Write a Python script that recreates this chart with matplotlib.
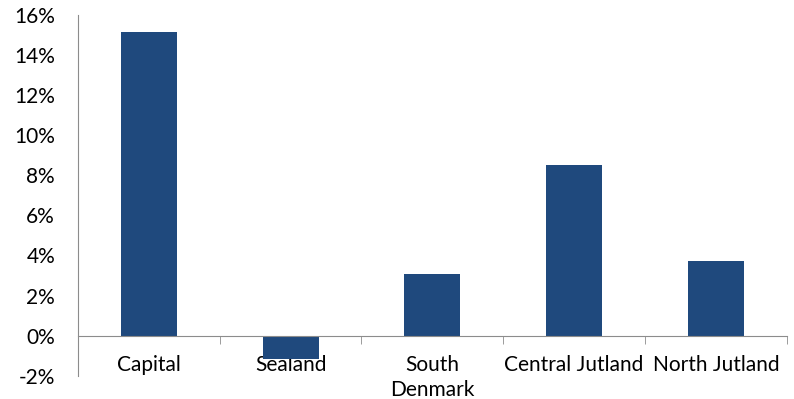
import matplotlib
matplotlib.use("Agg")
import matplotlib.pyplot as plt
import numpy as np
from matplotlib.ticker import FuncFormatter, FixedLocator

categories = ["Capital", "Sealand", "South\nDenmark", "Central Jutland", "North Jutland"]
values = [15.15, -1.15, 3.06, 8.51, 3.70]
yticks = [-2, 0, 2, 4, 6, 8, 10, 12, 14, 16]

plt.rcParams['font.family'] = ['Lato', 'DejaVu Sans']

fig = plt.figure(figsize=(7.94, 3.99), dpi=100)
W, H = 794, 399
ax = fig.add_axes([78 / W, (H - 375.7) / H, (786.7 - 78) / W, (375.7 - 15) / H])

x = np.arange(len(categories))
ax.bar(x, values, width=0.395, color="#1F497D", zorder=3)

ax.set_xlim(-0.5, len(categories) - 0.5)
ax.set_ylim(-2, 16)
ax.set_yticks(yticks)
ax.yaxis.set_major_formatter(FuncFormatter(lambda v, p: f"{int(v)}%"))
ax.tick_params(axis='y', length=0, pad=16.5, labelsize=15, colors='#000000')

for s in ['top', 'right']:
    ax.spines[s].set_visible(False)
ax.spines['left'].set_color('#8c8c8c')
ax.spines['bottom'].set_color('#8c8c8c')
ax.spines['bottom'].set_position(('data', 0))
ax.spines['bottom'].set_zorder(4)

ax.set_xticks(x)
ax.set_xticklabels(categories, linespacing=1.3)
ax.tick_params(axis='x', which='major', length=0, pad=14, labelsize=15)
ax.xaxis.set_minor_locator(FixedLocator(np.arange(-0.5, len(categories), 1.0)))
ax.tick_params(axis='x', which='minor', length=6, direction='out', color='#8c8c8c')
for lbl in ax.get_xticklabels():
    lbl.set_verticalalignment('top')

fig.savefig("out.png", dpi=100)
